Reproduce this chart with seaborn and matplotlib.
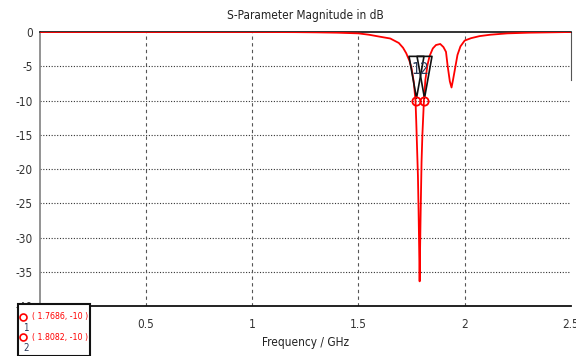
import numpy as np
import pandas as pd
import matplotlib
matplotlib.use("Agg")
import matplotlib.pyplot as plt
import seaborn as sns
from matplotlib.path import Path
from matplotlib.patches import Rectangle
from matplotlib.lines import Line2D

# S11 magnitude
freq_ghz = [0.0, 0.5, 1.0, 1.2, 1.3, 1.4, 1.5, 1.55, 1.6, 1.65, 1.69, 1.71, 1.725,
            1.74, 1.75, 1.76, 1.7686, 1.772, 1.776, 1.78, 1.783, 1.786, 1.788,
            1.79, 1.793, 1.797, 1.801, 1.8082, 1.815, 1.825, 1.835, 1.85, 1.865,
            1.885, 1.9, 1.912, 1.92, 1.93, 1.938, 1.945, 1.952, 1.966, 1.98,
            2.0, 2.03, 2.07, 2.12, 2.2, 2.3, 2.4, 2.5]
s11_db = [0.0, 0.0, 0.0, -0.02, -0.05, -0.1, -0.2, -0.4, -0.68, -0.95, -1.6, -2.3, -3.1,
          -4.2, -5.3, -7.2, -10.0, -13.0, -17.0, -21.0, -26.0, -32.0, -36.4,
          -32.0, -26.0, -19.0, -15.0, -10.0, -7.0, -4.8, -3.5, -2.4, -1.9,
          -1.75, -2.2, -2.9, -5.0, -7.2, -8.1, -7.0, -5.8, -3.35, -2.1,
          -1.25, -0.9, -0.6, -0.4, -0.2, -0.1, -0.05, 0.0]

marker_ids = ["1", "2"]
marker_freq = [1.7686, 1.8082]
marker_db = [-10, -10]

x_ticks = [0, 0.5, 1, 1.5, 2, 2.5]
x_labels = ["", "0.5", "1", "1.5", "2", "2.5"]  # "0" sits under the marker box
y_ticks = [0, -5, -10, -15, -20, -25, -30, -35, -40]

W, H = 576, 356
sns.set_style("white")
plt.rcParams["font.family"] = ["Liberation Sans Narrow", "DejaVu Sans"]
plt.rcParams["font.stretch"] = "condensed"

fig = plt.figure(figsize=(W / 100, H / 100), dpi=100)
ax = fig.add_axes([39.5 / W, 1 - 306 / H, (571 - 39.5) / W, (306 - 32) / H])

df = pd.DataFrame({"f": freq_ghz, "s11": s11_db})
sns.lineplot(data=df, x="f", y="s11", ax=ax, color="#ff0000", linewidth=1.3,
             sort=False, zorder=5)

ax.set_xlim(0, 2.5)
ax.set_ylim(-40, 0)
ax.set_xticks(x_ticks)
ax.set_xticklabels(x_labels)
ax.set_yticks(y_ticks)
ax.set_yticklabels([str(v) for v in y_ticks])
ax.tick_params(axis="both", labelsize=8.5, colors="#333333", length=3,
               width=0.8, color="#666666")
ax.tick_params(axis="x", pad=6)
ax.tick_params(axis="y", pad=2)

# grid: dotted horizontal, dashed vertical
for v in y_ticks[1:-1]:
    ax.axhline(v, color="#333333", linewidth=0.8, linestyle=(0, (1, 1.5)), zorder=1)
for v in x_ticks[1:-1]:
    ax.axvline(v, color="#555555", linewidth=0.8, linestyle=(0, (3, 3)), zorder=1)

ax.spines["left"].set_color("#808080")
ax.spines["left"].set_linewidth(1.2)
ax.spines["bottom"].set_color("#111111")
ax.spines["bottom"].set_linewidth(1.3)
ax.spines["top"].set_color("#111111")
ax.spines["top"].set_linewidth(1.2)
ax.spines["right"].set_color("#555555")
ax.spines["right"].set_bounds(-7, 0)

ax.set_title("S-Parameter Magnitude in dB", fontsize=8.5, color="#222222", pad=9)
ax.set_xlabel("Frequency / GHz", fontsize=8.5, color="#222222", labelpad=3)
ax.set_ylabel("")

# marker triangles with apex on the marker point
tri = Path([(0, 3.3), (-7.5, 45.3), (7.5, 45.3), (0, 3.3)],
           [Path.MOVETO, Path.LINETO, Path.LINETO, Path.CLOSEPOLY])
ax.plot(marker_freq, marker_db, linestyle="none", marker=tri, markersize=65,
        markerfacecolor="none", markeredgecolor="#111111", markeredgewidth=1.2,
        zorder=6, clip_on=False)
ax.plot(marker_freq, marker_db, linestyle="none", marker="o", markersize=6,
        markerfacecolor="none", markeredgecolor="#ff0000", markeredgewidth=1.3,
        zorder=7)
for mid, mf, md in zip(marker_ids, marker_freq, marker_db):
    ax.annotate(mid, (mf, md), xytext=(0, 22), textcoords="offset points",
                ha="center", va="center", fontsize=11, color="#2a3a5a", zorder=8)

# marker readout box, bottom left
fig.patches.append(Rectangle((18 / W, 0), (90 - 18) / W, (356 - 303.6) / H,
                             transform=fig.transFigure, facecolor="white",
                             edgecolor="#111111", linewidth=1.5, zorder=10))
for i, (mid, mf, md) in enumerate(zip(marker_ids, marker_freq, marker_db)):
    yc = 1 - (316.7 + 20.5 * i) / H
    fig.add_artist(Line2D([23.3 / W], [yc], transform=fig.transFigure, marker="o",
                          markersize=5, markerfacecolor="none",
                          markeredgecolor="#ff0000", markeredgewidth=1.2, zorder=11))
    fig.text(25.7 / W, yc - 11 / H, mid, fontsize=7, color="#2a3a5a",
             ha="center", va="center", zorder=11)
    fig.text(32 / W, yc, f"( {mf:.4f}, {md:.0f} )", fontsize=6.3, color="#ff0000",
             ha="left", va="center", zorder=11)

fig.savefig("out.png", dpi=100)
